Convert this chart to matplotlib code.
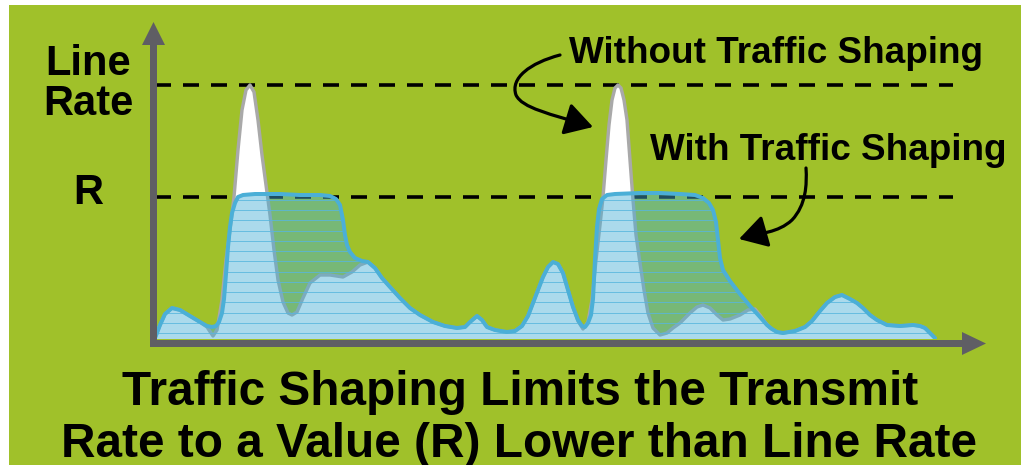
import numpy as np
import matplotlib
matplotlib.use("Agg")
import matplotlib.pyplot as plt
from matplotlib.patches import Rectangle, Polygon, FancyArrowPatch
from matplotlib.path import Path

plt.rcParams["font.family"] = ["Liberation Sans", "DejaVu Sans"]
plt.rcParams["lines.scale_dashes"] = False

# Offered traffic without shaping (time, rate)
time_unshaped = [5, 10, 15, 22, 30, 40, 50, 57, 63, 67, 72, 76, 80, 84, 88, 92, 96, 100,
                 104, 108, 112, 116, 120, 124, 128, 133, 138, 142, 147, 153, 160, 170, 180,
                 193, 202, 210, 218, 225, 232, 240, 250, 260, 270, 283, 295, 307, 315, 320,
                 327, 332, 337, 345, 357, 365, 372, 378, 383, 388, 393, 398, 403, 408, 413,
                 418, 423, 428, 433, 438, 442, 446, 450, 453, 456, 459, 462, 465, 468, 471,
                 474, 477, 480, 483, 486, 490, 494, 498, 503, 510, 517, 523, 530, 540, 547,
                 553, 560, 567, 573, 580, 590, 598, 605, 610, 615, 620, 627, 633, 645, 655,
                 662, 670, 677, 685, 692, 700, 707, 713, 720, 727, 737, 750, 763, 770, 775,
                 780, 785]
rate_unshaped = [1, 14, 25, 31, 29, 23, 17, 12, 3, 9, 39, 79, 109, 142, 189, 229, 249, 254,
                 247, 219, 184, 154, 124, 89, 59, 37, 26, 24, 27, 41, 56, 64, 64,
                 62, 67, 74, 77, 71, 61, 52, 41, 31, 24, 17, 13, 11, 12, 17,
                 23, 19, 12, 9, 7, 8, 13, 23, 36, 49, 62, 72, 77, 75, 66,
                 49, 32, 18, 10, 17, 39, 79, 114, 142, 179, 214, 239, 251, 254, 251,
                 239, 219, 179, 139, 104, 76, 49, 26, 11, 4, 6, 11, 16, 26, 32,
                 34, 31, 24, 19, 20, 24, 29, 30, 24, 17, 11, 7, 6, 8, 12,
                 18, 28, 36, 42, 44, 40, 36, 31, 24, 19, 14, 13, 14, 13, 11,
                 6, 1]

# Transmitted traffic with shaping (time, rate)
time_shaped = [5, 10, 15, 22, 30, 40, 50, 57, 62, 66, 69, 72, 74, 76, 78, 80, 82, 85, 88,
               93, 105, 130, 150, 170, 180, 186, 190, 193, 195, 197, 200, 205, 212, 218,
               225, 232, 240, 250, 260, 270, 283, 295, 307, 315, 320, 327, 332, 337, 345,
               357, 365, 372, 378, 383, 388, 393, 398, 403, 408, 413, 418, 423, 428, 432,
               435, 438, 441, 443, 445, 447, 449, 452, 457, 465, 490, 510, 530, 545, 553,
               559, 563, 566, 568, 570, 573, 580, 590, 600, 610, 617, 622, 627, 633, 645,
               655, 662, 670, 677, 685, 692, 700, 707, 713, 720, 727, 737, 750, 763, 770,
               775, 780, 785]
rate_shaped = [1, 14, 25, 31, 29, 23, 17, 13, 12, 13, 17, 26, 40, 65, 92, 112, 126, 136, 142,
               144, 145, 145, 144, 144, 143, 140, 134, 119, 104, 94, 87, 81, 78, 77,
               71, 61, 52, 41, 31, 24, 17, 13, 11, 12, 17, 23, 19, 12, 9,
               7, 8, 13, 23, 36, 49, 62, 72, 77, 75, 66, 49, 32, 19, 13,
               12, 16, 24, 40, 80, 112, 130, 140, 144, 145, 146, 146, 145, 144, 141,
               136, 129, 117, 99, 81, 69, 58, 45, 33, 22, 14, 10, 7, 6, 8,
               12, 18, 28, 36, 42, 44, 40, 36, 31, 24, 19, 14, 13, 14, 13,
               11, 6, 1]

LINE_RATE = 254
SHAPED_RATE = 142

GREEN = "#A0C12A"
AXIS_GREY = "#5F5E64"
BLUE = "#4BAFD7"

fig = plt.figure(figsize=(10.21, 4.65), dpi=100)
fig.patch.set_facecolor("white")

# background panel (pixel coordinates)
bg = fig.add_axes([0, 0, 1, 1], zorder=0)
bg.set_xlim(0, 1021)
bg.set_ylim(465, 0)
bg.axis("off")
bg.add_patch(Rectangle((9, 5), 1012, 460, facecolor=GREEN, edgecolor="none"))

# data axes: one unit = one pixel
ax = fig.add_axes([150 / 1021, (465 - 339) / 465, 870 / 1021, 334 / 465], zorder=1)
ax.set_xlim(0, 870)
ax.set_ylim(0, 334)
ax.patch.set_visible(False)
for s in ax.spines.values():
    s.set_visible(False)
ax.set_xticks([])
ax.set_yticks([])

px = 1.0 / 1.3889  # points per pixel

# reference levels
for lvl in (LINE_RATE, SHAPED_RATE):
    ax.plot([5, 803], [lvl, lvl], color="black", lw=3.6 * px,
            dashes=(16 * px, 12 * px), dash_capstyle="butt", zorder=1, clip_on=False)

# unshaped traffic
ax.fill_between(time_unshaped, 0, rate_unshaped, facecolor="white", edgecolor="none", zorder=2)
ax.plot(time_unshaped, rate_unshaped, color="#A9A9A9", lw=3.4 * px, zorder=3,
        solid_joinstyle="round", solid_capstyle="round")

# shaped traffic
shaped_fill = ax.fill_between(time_shaped, 0, rate_shaped, facecolor=(70 / 255, 175 / 255, 215 / 255),
                              alpha=0.45, edgecolor="none", zorder=4)
clip = shaped_fill.get_paths()[0]
for y in np.arange(6, 150, 10.25):
    ln = ax.axhline(y, color="#58B6DD", lw=1.0 * px, alpha=0.8, zorder=5)
    ln.set_clip_path(clip, ax.transData)
ax.plot(time_shaped, rate_shaped, color=BLUE, lw=4.0 * px, zorder=6,
        solid_joinstyle="round", solid_capstyle="round")

# level labels
lab = dict(ha="center", va="baseline", fontsize=30, fontweight="bold", color="black", clip_on=False)
ax.text(-62, LINE_RATE + 10, "Line", **lab)
ax.text(-62, LINE_RATE - 30, "Rate", **lab)
ax.text(-62, SHAPED_RATE - 7, "R", **lab)

# overlay (pixel coordinates) for axis arrows, captions and pointers
top = fig.add_axes([0, 0, 1, 1], zorder=3)
top.set_xlim(0, 1021)
top.set_ylim(465, 0)
top.axis("off")
top.patch.set_visible(False)

top.add_patch(Rectangle((150, 45), 7, 302, facecolor=AXIS_GREY, edgecolor="none"))
top.add_patch(Polygon([(142, 45), (165, 45), (153.5, 22)], closed=True, facecolor=AXIS_GREY, edgecolor="none"))
top.add_patch(Rectangle((150, 340), 812, 7, facecolor=AXIS_GREY, edgecolor="none"))
top.add_patch(Polygon([(962, 332), (962, 355), (986, 343.5)], closed=True, facecolor=AXIS_GREY, edgecolor="none"))

cap = dict(va="baseline", fontsize=26.6, fontweight="bold", color="black")
top.text(569, 63, "Without Traffic Shaping", ha="left", **cap)
top.text(650, 160, "With Traffic Shaping", ha="left", **cap)

ttl = dict(ha="center", va="baseline", fontsize=34.4, fontweight="bold", color="black")
top.text(520, 405, "Traffic Shaping Limits the Transmit", **ttl)
top.text(519, 457, "Rate to a Value (R) Lower than Line Rate", **ttl)

C4 = Path.CURVE4
p1 = Path([(560, 55), (530, 63), (510, 78), (516, 95), (522, 108), (550, 114), (593, 127)],
          [Path.MOVETO, C4, C4, C4, C4, C4, C4])
p2 = Path([(806, 168), (807, 185), (806, 205), (792, 220), (778, 233), (760, 233), (739, 239)],
          [Path.MOVETO, C4, C4, C4, C4, C4, C4])
for p in (p1, p2):
    top.add_patch(FancyArrowPatch(path=p, arrowstyle="-|>,head_length=0.85,head_width=0.5",
                                  mutation_scale=20, lw=3.2 * px, color="black",
                                  transform=top.transData))

fig.savefig("out.png", dpi=100, facecolor=fig.get_facecolor())
